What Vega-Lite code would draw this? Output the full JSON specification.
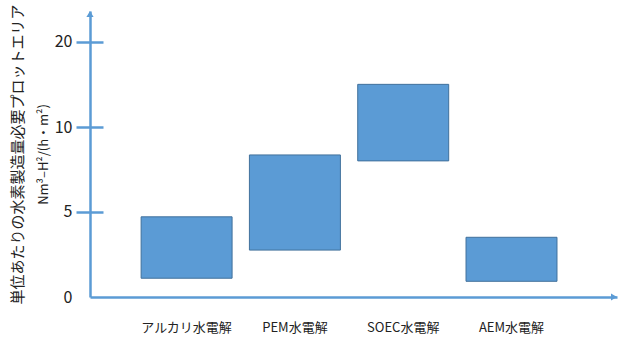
{
  "$schema": "https://vega.github.io/schema/vega-lite/v6.json",
  "width": 527,
  "height": 286,
  "autosize": {"type": "none"},
  "padding": {"left": 90, "top": 11, "right": 6, "bottom": 41},
  "background": "white",
  "config": {"view": {"stroke": null}},
  "layer": [
    {
      "data": {
        "values": [
          {"method": "アルカリ水電解", "low": 1.1, "high": 4.7},
          {"method": "PEM水電解", "low": 2.75, "high": 8.35},
          {"method": "SOEC水電解", "low": 8.0, "high": 15.0},
          {"method": "AEM水電解", "low": 0.92, "high": 3.5}
        ]
      },
      "mark": {"type": "bar", "fill": "#5b9bd5", "stroke": "#41719c", "strokeWidth": 1},
      "encoding": {
        "x": {
          "field": "method",
          "type": "nominal",
          "sort": null,
          "scale": {"paddingInner": 0.16, "paddingOuter": 0.513, "align": 0.46},
          "axis": {
            "orient": "bottom",
            "title": null,
            "grid": false,
            "domain": true,
            "domainColor": "#5b9bd5",
            "domainWidth": 2.5,
            "ticks": false,
            "labelAngle": 0,
            "labelPadding": 24,
            "labelFont": "Noto Sans CJK JP",
            "labelFontSize": 13,
            "labelColor": "#222222"
          }
        },
        "y": {
          "field": "low",
          "type": "quantitative",
          "scale": {
            "domain": [0, 5, 10, 20, 23.6],
            "range": [286, 200.7, 116, 30.7, 0],
            "nice": false,
            "zero": false
          },
          "axis": {
            "orient": "left",
            "values": [0, 5, 10, 20],
            "grid": false,
            "domain": true,
            "domainColor": "#5b9bd5",
            "domainWidth": 2.5,
            "ticks": false,
            "labelPadding": 18,
            "labelFont": "Liberation Sans Narrow, Noto Sans CJK JP",
            "labelFontSize": 16,
            "labelColor": "#222222",
            "title": "単位あたりの水素製造量必要プロットエリア",
            "titleFont": "Noto Sans CJK JP",
            "titleFontSize": 15,
            "titleFontWeight": "normal",
            "titleColor": "#222222",
            "titlePadding": 29
          }
        },
        "y2": {"field": "high"}
      }
    },
    {
      "data": {"values": [{}]},
      "mark": {
        "type": "point",
        "shape": "M0,0L-1.2,2L1.2,2Z",
        "size": 36,
        "filled": true,
        "color": "#5b9bd5",
        "opacity": 1,
        "strokeWidth": 0
      },
      "encoding": {
        "x": {"value": 0},
        "y": {
          "datum": 23.6,
          "type": "quantitative",
          "axis": {
            "orient": "left",
            "offset": -13,
            "values": [5, 10, 20],
            "grid": false,
            "domain": false,
            "labels": false,
            "ticks": true,
            "tickSize": 27,
            "tickWidth": 2.5,
            "tickColor": "#5b9bd5",
            "title": "Nm³–H²/(h・m²)",
            "titleFont": "Noto Sans CJK JP",
            "titleFontSize": 13,
            "titleFontWeight": "normal",
            "titleColor": "#222222",
            "titlePadding": 24
          }
        }
      }
    },
    {
      "data": {"values": [{}]},
      "mark": {
        "type": "point",
        "shape": "M0,0L-2,-1.2L-2,1.2Z",
        "size": 36,
        "filled": true,
        "color": "#5b9bd5",
        "opacity": 1,
        "strokeWidth": 0
      },
      "encoding": {
        "x": {"value": {"expr": "width"}},
        "y": {"datum": 0, "type": "quantitative", "axis": null}
      }
    }
  ],
  "resolve": {"axis": {"y": "independent"}}
}
